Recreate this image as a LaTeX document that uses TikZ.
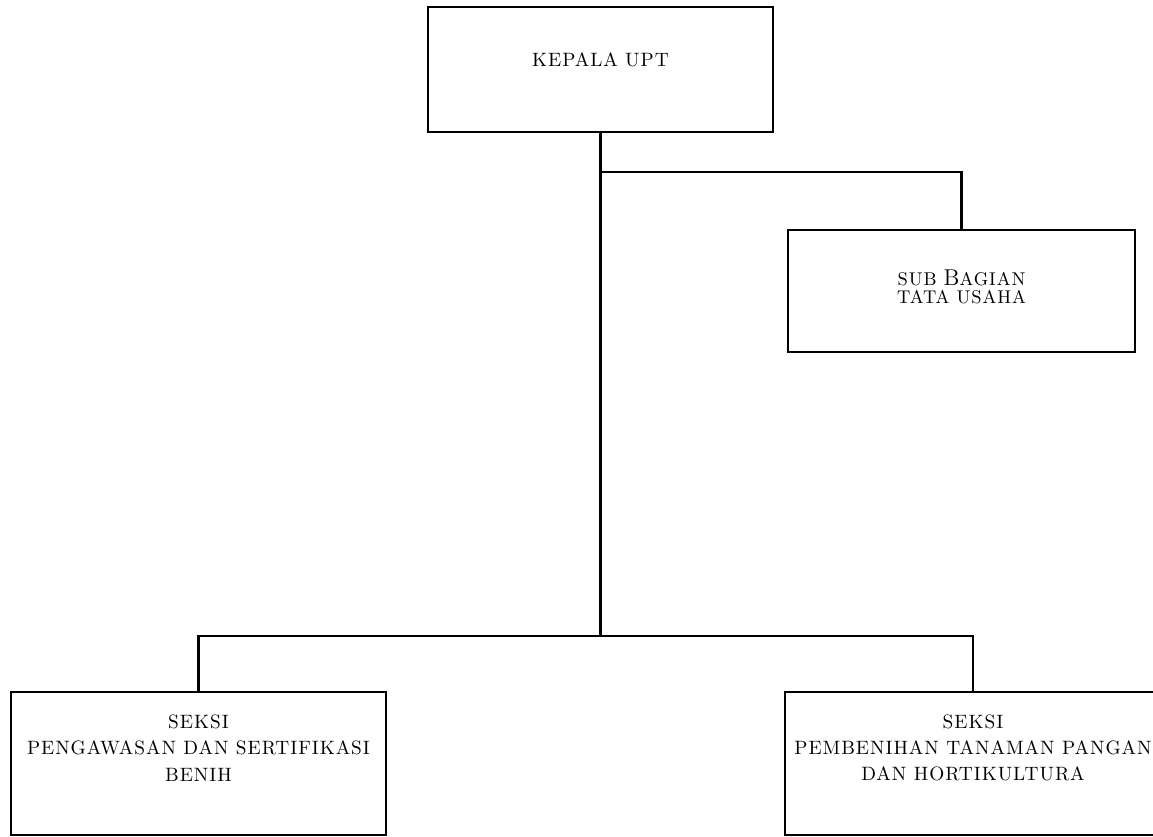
\documentclass[tikz,border=0pt]{standalone}
\usepackage{fontspec}
\setmainfont{Latin Modern Roman}[LetterSpace=5]
\newcommand\capB{{\fontsize{13}{10}\selectfont B}}

\begin{document}
\begin{tikzpicture}[x=0.02cm,y=-0.02cm,line width=1.3pt,
    box/.style={draw, inner sep=0pt},
    lbl/.style={align=center, font=\fontsize{11}{15}\selectfont}]
\clip (0,0) rectangle (1153,837);

% Boxes
\node[box, minimum width=6.9cm, minimum height=2.5cm] (kepala) at (600.5,69.5) {};
\node[box, minimum width=6.94cm, minimum height=2.44cm] (tu) at (961.5,291) {};
\node[box, minimum width=7.5cm, minimum height=2.86cm] (seksiA) at (198.5,763.5) {};
\node[box, minimum width=7.52cm, minimum height=2.86cm] (seksiB) at (973,763.5) {};

% Labels
\node[lbl] (kepalaLbl) at (600.5,60) {KEPALA UPT};
\node[lbl, font=\fontsize{10.5}{10}\selectfont] (tuLbl) at (961.5,287) {SUB \capB AGIAN\\TATA USAHA};
\node[lbl] (seksiALbl) at (198.5,748) {SEKSI\\PENGAWASAN DAN SERTIFIKASI\\BENIH};
\node[lbl] (seksiBLbl) at (973,748) {SEKSI\\PEMBENIHAN TANAMAN PANGAN\\DAN HORTIKULTURA};

% Lines
\coordinate (fork) at (600.5,172);
\coordinate (bar) at (600.5,636);
\draw (kepala.south) -- (bar);
\draw (fork) -| (tu.north);
\draw (seksiA.north) |- (bar) -| (seksiB.north);
\end{tikzpicture}
\end{document}
